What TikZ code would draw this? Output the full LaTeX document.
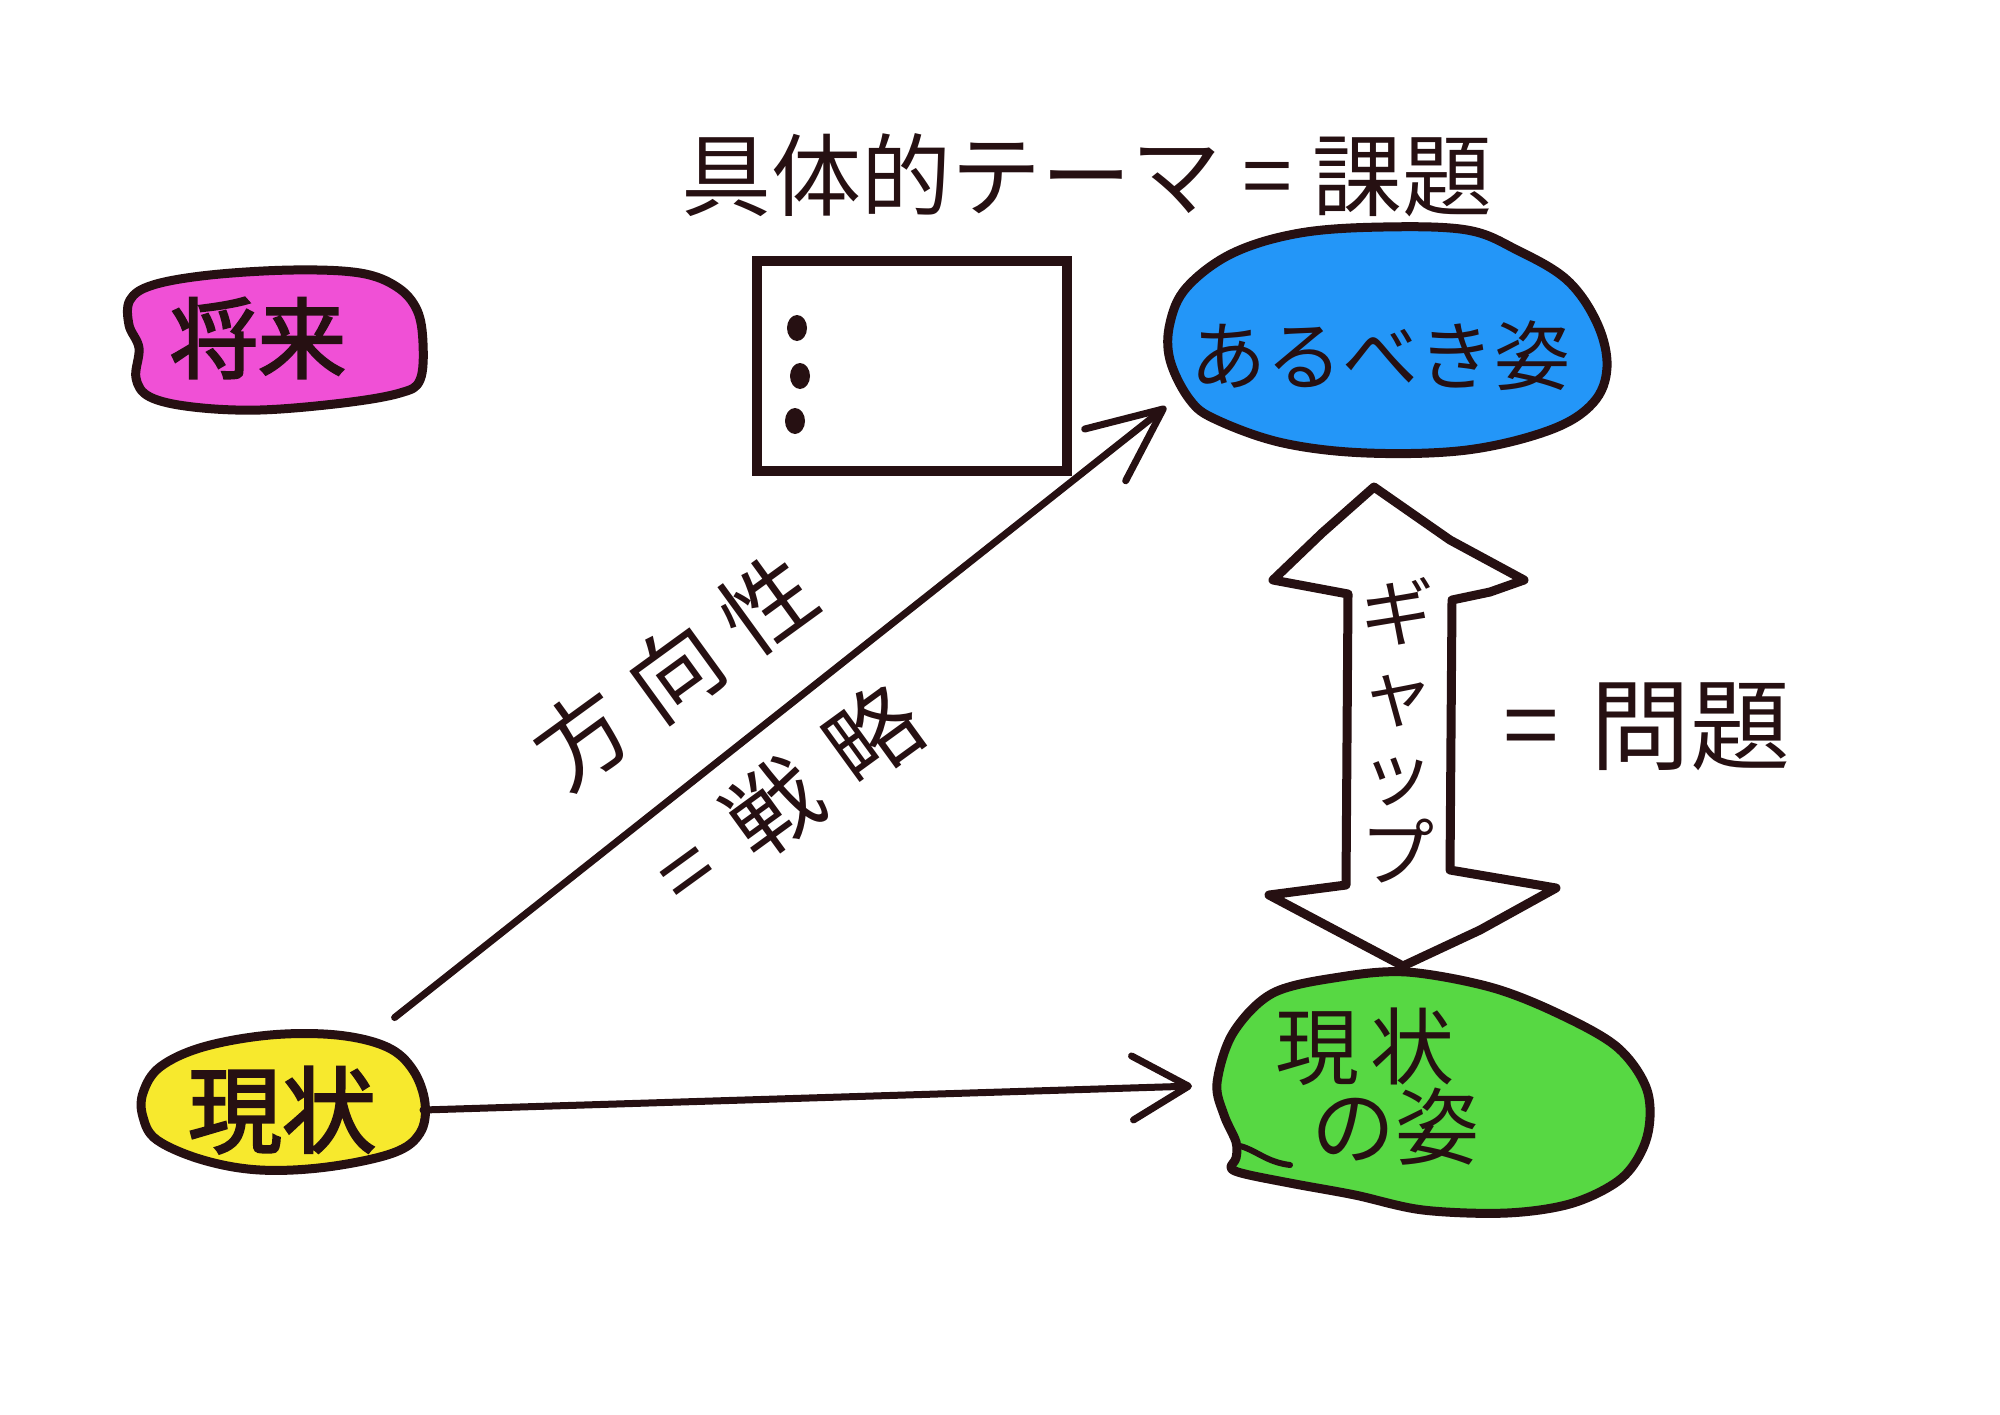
\documentclass[tikz,border=0pt]{standalone}
\usepackage{fontspec}
\newfontfamily\jp{Noto Sans CJK JP}
\newfontfamily\jpb[FakeBold=2.5]{Noto Sans CJK JP}
\usetikzlibrary{arrows.meta,shapes.geometric}
\definecolor{inkc}{RGB}{38,16,18}
\definecolor{pinkc}{RGB}{240,80,214}
\definecolor{yellowc}{RGB}{247,233,45}
\definecolor{bluec}{RGB}{35,150,248}
\definecolor{greenc}{RGB}{87,216,67}
\tikzset{
  ink/.style={draw=inkc, line width=4.5pt, line join=round, line cap=round},
  lbl/.style={text=inkc, inner sep=0pt, outer sep=0pt},
  blobnode/.style={ellipse, draw=none, inner sep=0pt, outer sep=0pt, text=inkc},
  conn/.style={draw=inkc, line width=3.5pt, line cap=round,
    -{Straight Barb[round, length=37pt, width=33pt, line width=3.5pt]}},
  connb/.style={draw=inkc, line width=3.5pt, line cap=round,
    -{Straight Barb[round, length=28pt, width=32pt, line width=3.5pt]}}
}
\begin{document}
\begin{tikzpicture}[x=0.5pt,y=-0.5pt]
\fill[white] (0,0) rectangle (2000,1414);
\useasboundingbox (0,0) rectangle (2000,1414);

% title
\node[lbl, font=\jp\fontsize{45}{50}\selectfont] (title) at (1087,175) {具体的テーマ = 課題};

% box with dots
\node[draw=inkc, line width=5pt, minimum width=155pt, minimum height=105pt, inner sep=0pt] (box) at (912,366) {};
\fill[inkc] (797,328) ellipse [x radius=5pt, y radius=6.5pt];
\fill[inkc] (800,376) ellipse [x radius=5pt, y radius=6.5pt];
\fill[inkc] (795,421) ellipse [x radius=5pt, y radius=6.5pt];

% pink blob
\filldraw[fill=pinkc, ink] plot[smooth cycle, tension=0.6] coordinates {
 (130,300) (153,285) (210,275) (293,270) (360,273) (397,287) (417,310) (423,343)
 (420,380) (400,393) (343,403) (260,410) (193,407) (150,397) (136,378) (139,348) (129,325)};
\node[lbl, font=\jpb\fontsize{44}{50}\selectfont] (shorai) at (258,338) {将来};

% yellow blob
\filldraw[fill=yellowc, ink] plot[smooth cycle, tension=0.6] coordinates {
 (143,1093) (160,1067) (203,1047) (270,1035) (337,1035) (387,1047) (413,1070) (425,1103)
 (420,1133) (393,1153) (327,1167) (260,1170) (203,1160) (157,1140) (143,1117)};
\node[blobnode, minimum width=141pt, minimum height=68pt, font=\jpb\fontsize{47}{50}\selectfont] (genjo) at (282,1110) {現状};

% blue blob
\filldraw[fill=bluec, ink] plot[smooth cycle, tension=0.6] coordinates {
 (1170,323) (1187,287) (1233,253) (1300,233) (1383,227) (1467,230) (1517,250) (1567,280)
 (1597,323) (1607,367) (1593,403) (1550,430) (1467,450) (1367,453) (1283,443) (1217,420)
 (1190,400) (1170,360)};
\node[blobnode, minimum width=220pt, minimum height=113pt, font=\jp\fontsize{38}{45}\selectfont] (arubeki) at (1380,356) {あるべき姿};

% green blob
\filldraw[fill=greenc, ink] plot[smooth cycle, tension=0.55] coordinates {
 (1217,1083) (1233,1033) (1273,993) (1340,977) (1407,972) (1490,987) (1557,1013) (1617,1047)
 (1647,1090) (1647,1137) (1623,1177) (1573,1203) (1507,1213) (1423,1210) (1355,1195)
 (1295,1184) (1245,1174) (1231,1168) (1236,1158) (1236,1142) (1224,1115)};
\draw[ink, line width=3pt] (1240,1146) .. controls (1256,1150) and (1266,1162) .. (1290,1165);
\node[blobnode, align=left, minimum width=215pt, minimum height=120pt, font=\jp\fontsize{42}{40}\selectfont] (gensugata) at (1377,1087) {現\hspace{6pt}状\\\hspace*{18pt}の姿};

% block double arrow (gap)
\filldraw[fill=white, ink] (1374,487) -- (1450,540) -- (1524,580) -- (1490,592) -- (1452,600)
  -- (1450,870) -- (1556,888) -- (1480,930) -- (1403,966) -- (1335,930) -- (1269,895)
  -- (1346,885) -- (1348,594) -- (1273,580) -- (1322,533) -- cycle;
\node[lbl, align=center, font=\jp\fontsize{37}{40}\selectfont] (gap) at (1397,730) {ギ\\ャ\\ッ\\プ};
\node[lbl, anchor=west, font=\jp\fontsize{50}{55}\selectfont] (mondai) at (1503,727) {=\hspace{16pt}問題};

% connectors
\draw[conn, shorten <=27pt, shorten >=-8pt] (genjo.40) -- (arubeki.195);
\draw[connb, shorten >=-15pt] (genjo.east) -- (gensugata.west);

% labels along the diagonal arrow
\node[lbl, rotate=36, align=center, font=\jp\fontsize{46}{50}\selectfont] (hoko) at (724,739)
  {方\hspace{11pt}向\hspace{11pt}性\\[34pt]\hspace*{18pt}=\hspace{18pt}戦\hspace{16pt}略};
\end{tikzpicture}
\end{document}
